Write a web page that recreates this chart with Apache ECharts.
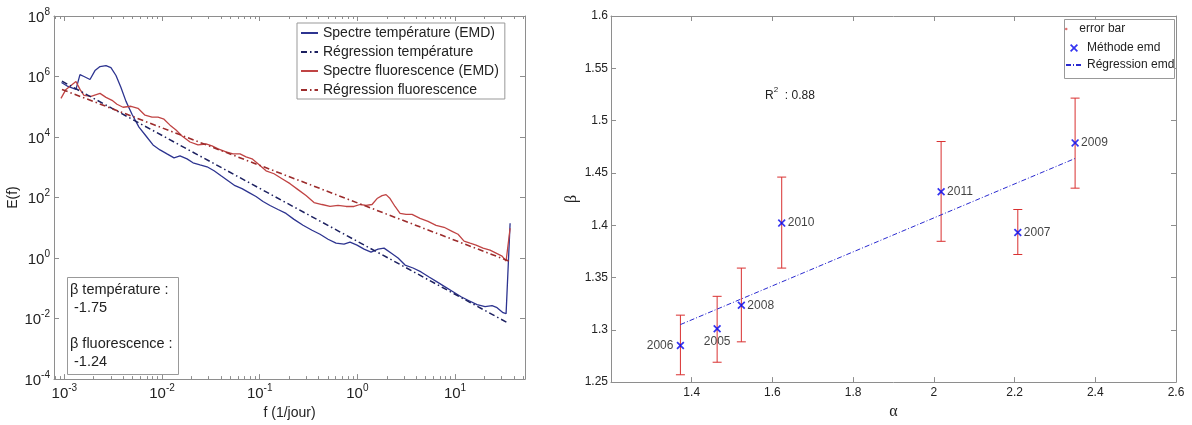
<!DOCTYPE html>
<html><head><meta charset="utf-8">
<script src="https://cdn.jsdelivr.net/npm/echarts@6/dist/echarts.min.js"></script>
<style>html,body{margin:0;padding:0;background:#fff}#c{width:1192px;height:425px}</style>
</head><body><div id="c"></div>
<script>
// ---------------- Left panel data (log-log spectra) ----------------
const tempFreq = [9.35e-4, 1.09e-3, 1.316e-3, 1.446e-3, 1.59e-3, 1.831e-3, 2.06e-3, 2.32e-3, 2.67e-3, 3.00e-3,
  3.38e-3, 3.80e-3, 4.28e-3, 4.93e-3, 5.81e-3, 6.86e-3, 8.09e-3, 9.54e-3, 0.01125, 0.01327,
  0.01528, 0.01803, 0.02077, 0.02449, 0.0289, 0.0341, 0.0402, 0.0474, 0.0559, 0.0659,
  0.0778, 0.0917, 0.1082, 0.1276, 0.1541, 0.1861, 0.2246, 0.2778, 0.3435, 0.4147,
  0.5008, 0.6047, 0.7304, 0.841, 0.992, 1.170, 1.380, 1.628, 1.875, 2.212,
  2.609, 3.076, 3.715, 4.486, 5.417, 6.54, 7.90, 9.54, 11.52, 13.91,
  16.80, 20.29, 23.92, 26.92, 31.0, 33.3, 36.6];
const tempSpec = [6.36e5, 4.70e5, 3.75e5, 1.16e6, 1.0e6, 7.98e5, 1.57e6, 2.13e6, 2.30e6, 1.97e6,
  1.08e6, 4.36e5, 1.51e5, 5.68e4, 2.13e4, 1.08e4, 5.47e3, 3.75e3, 2.77e3, 2.05e3,
  2.38e3, 1.90e3, 1.41e3, 1.21e3, 1.04e3, 767, 526, 361, 247, 197,
  146, 108, 74, 54.7, 40.4, 29.9, 19.0, 12.1, 8.28, 6.12,
  4.20, 3.10, 2.88, 3.35, 2.67, 1.97, 1.57, 1.97, 2.13, 1.46,
  1.0, 0.589, 0.470, 0.348, 0.238, 0.163, 0.112, 0.0767, 0.0526, 0.0389,
  0.0288, 0.0247, 0.0267, 0.0230, 0.0157, 0.0146, 14.1];
const fluoFreq = [9.24e-4, 1.040e-3, 1.170e-3, 1.316e-3, 1.446e-3, 1.590e-3, 1.875e-3, 2.32e-3, 2.67e-3, 3.08e-3,
  3.46e-3, 3.99e-3, 4.82e-3, 5.68e-3, 6.70e-3, 7.90e-3, 9.10e-3, 0.01048, 0.01208, 0.01391,
  0.01602, 0.01935, 0.02336, 0.0282, 0.0325, 0.0375, 0.0452, 0.0533, 0.0629, 0.0725,
  0.0835, 0.0961, 0.1161, 0.1402, 0.1693, 0.2045, 0.2468, 0.2981, 0.360, 0.4347,
  0.525, 0.634, 0.766, 0.924, 1.065, 1.227, 1.413, 1.590, 1.789, 1.966,
  2.160, 2.430, 2.735, 3.15, 3.63, 4.38, 5.29, 6.39, 7.72, 9.32,
  10.73, 12.36, 14.24, 16.41, 19.35, 22.82, 26.29, 30.28, 33.3, 36.6];
const fluoSpec = [1.90e5, 3.75e5, 5.07e5, 6.86e5, 3.75e5, 2.38e5, 2.21e5, 2.77e5, 2.05e5, 1.63e5,
  1.21e5, 9.64e4, 1.04e5, 8.93e4, 5.26e4, 4.53e4, 4.53e4, 3.89e4, 2.47e4, 1.70e4,
  1.08e4, 6.86e3, 5.47e3, 5.89e3, 5.07e3, 4.05e3, 3.22e3, 2.77e3, 2.77e3, 2.21e3,
  1.90e3, 1.30e3, 767, 612, 420, 288, 183, 116, 68.5, 58.9,
  50.7, 54.7, 50.7, 50.7, 58.9, 54.7, 58.9, 92.7, 116, 125,
  92.7, 50.7, 29.9, 27.7, 27.7, 20.5, 16.3, 12.1, 10.4, 7.67,
  6.12, 3.61, 3.10, 2.67, 2.13, 1.83, 1.46, 1.16, 0.798, 9.64];
const tempRegFreq = [9.46e-4, 35.7];
const tempRegVal = [7.0e5, 6.85e-3];
const fluoRegFreq = [9.46e-4, 35.7];
const fluoRegVal = [3.75e5, 0.794];
const leftNames = ['Spectre température (EMD)', 'Régression température', 'Spectre fluorescence (EMD)', 'Régression fluorescence'];
const xMajorTicks = [1e-3, 1e-2, 1e-1, 1, 10];
const yMajorTicks = [1e-4, 1e-2, 1, 1e2, 1e4, 1e6, 1e8];
const betaText = ['β température :', ' -1.75', '', 'β fluorescence :', ' -1.24'];

// ---------------- Right panel data (alpha / beta) ----------------
const years = ['2006', '2005', '2008', '2010', '2011', '2007', '2009'];
const alpha = [1.372, 1.463, 1.523, 1.623, 2.018, 2.208, 2.350];
const beta = [1.285, 1.301, 1.3235, 1.402, 1.432, 1.393, 1.4787];
const betaLow = [1.257, 1.269, 1.2885, 1.359, 1.3846, 1.372, 1.4354];
const betaHigh = [1.314, 1.332, 1.359, 1.446, 1.480, 1.415, 1.5215];
const regAlpha = [1.372, 2.350];
const regBeta = [1.305, 1.4638];
const rightNames = ['error bar', 'Méthode emd', 'Régression emd'];
const r2Value = '0.88';

// ---------------- fonts ----------------
function hasFont(name) {
  const ctx = document.createElement('canvas').getContext('2d');
  const s = 'abcdefghijklmnopqrstuvwxyz0123456789';
  ctx.font = '40px monospace'; const w1 = ctx.measureText(s).width;
  ctx.font = '40px "' + name + '", monospace'; const a = ctx.measureText(s).width;
  return Math.abs(a - w1) > 0.5;
}
const LS = '"Liberation Sans", Arial, sans-serif';
const narrow = hasFont('Liberation Sans Narrow');
const RF = narrow ? '"Liberation Sans Narrow", "Liberation Sans", sans-serif' : LS;
const RS = narrow ? 14 : 12;
const GREEK = '"Liberation Serif", "DejaVu Serif", serif';

const AX = '#8e8e8e';
const TXT = '#222';

// minor log ticks (2..9 x 10^k)
const xMinorTicks = [];
for (let e = -4; e <= 1; e++) for (let k = 2; k <= 9; k++) xMinorTicks.push(k * Math.pow(10, e));

function powLabel(v) {
  const e = Math.round(Math.log10(v));
  return '{b|10}{s|' + e + '}';
}
const powRich = {
  b: { fontFamily: LS, fontSize: 15, color: TXT, lineHeight: 18, verticalAlign: 'bottom' },
  s: { fontFamily: LS, fontSize: 10, color: TXT, lineHeight: 12, verticalAlign: 'top' }
};

function logAxis(dim, pos, ticks, len, labels, extra) {
  const base = {
    type: 'log', logBase: 10, gridIndex: 0, position: pos,
    min: dim === 'x' ? 7.84e-4 : 1e-4, max: dim === 'x' ? 52 : 1e8,
    axisLine: { show: true, onZero: false, lineStyle: { color: AX, width: 1 } },
    axisTick: { show: true, inside: true, length: len, customValues: ticks, lineStyle: { color: AX } },
    axisLabel: labels ? { show: true, customValues: ticks, formatter: powLabel, rich: powRich, margin: 4, color: TXT } : { show: false },
    splitLine: { show: false }, minorTick: { show: false }, minorSplitLine: { show: false }
  };
  return Object.assign(base, extra || {});
}
function valAxis(grid, pos, min, max, interval, labels, extra) {
  const base = {
    type: 'value', gridIndex: grid, position: pos, min: min, max: max, interval: interval,
    axisLine: { show: true, onZero: false, lineStyle: { color: AX, width: 1 } },
    axisTick: { show: true, inside: true, length: 5, lineStyle: { color: AX } },
    axisLabel: labels ? { show: true, fontFamily: RF, fontSize: RS, color: TXT } : { show: false },
    splitLine: { show: false }
  };
  return Object.assign(base, extra || {});
}

const xPath = 'path://M0,1.5 L1.5,0 L5,3.5 L8.5,0 L10,1.5 L6.5,5 L10,8.5 L8.5,10 L5,6.5 L1.5,10 L0,8.5 L3.5,5 Z';
const labelPlacement = { '2006': 'left', '2005': 'bottom' };
const noSym = { opacity: 0 };

const chart = echarts.init(document.getElementById('c'), null, { renderer: 'canvas' });
const option = {
  animation: false,
  backgroundColor: '#fff',
  grid: [
    { left: 54, top: 16, width: 471, height: 366 },
    { left: 611, top: 16, width: 565, height: 370 }
  ],
  xAxis: [
    logAxis('x', 'bottom', xMajorTicks, 5, true, {
      name: 'f (1/jour)', nameLocation: 'middle', nameGap: 16,
      nameTextStyle: { fontFamily: LS, fontSize: 14, color: TXT }
    }),
    logAxis('x', 'bottom', xMinorTicks, 3, false, { axisLine: { show: false } }),
    logAxis('x', 'top', xMajorTicks, 5, false),
    logAxis('x', 'top', xMinorTicks, 3, false, { axisLine: { show: false } }),
    valAxis(1, 'bottom', 1.2, 2.6, 0.2, true, {
      name: 'α', nameLocation: 'middle', nameGap: 19,
      nameTextStyle: { fontFamily: GREEK, fontSize: 16, color: TXT },
      axisLabel: { show: true, fontFamily: RF, fontSize: RS, color: TXT, showMinLabel: false, margin: 5 }
    }),
    valAxis(1, 'top', 1.2, 2.6, 0.2, false)
  ],
  yAxis: [
    logAxis('y', 'left', yMajorTicks, 5, true, {
      name: 'E(f)', nameLocation: 'middle', nameGap: 29,
      nameTextStyle: { fontFamily: LS, fontSize: 14, color: TXT }
    }),
    logAxis('y', 'right', yMajorTicks, 5, false),
    valAxis(1, 'left', 1.25, 1.6, 0.05, true, {
      name: 'β', nameLocation: 'middle', nameGap: 31,
      nameTextStyle: { fontFamily: GREEK, fontSize: 16, color: TXT },
      axisLabel: { show: true, fontFamily: RF, fontSize: RS, color: TXT, margin: 3 }
    }),
    valAxis(1, 'right', 1.25, 1.6, 0.05, false)
  ],
  legend: [
    {
      left: 297, top: 23, orient: 'vertical', padding: [3, 6, 2, 3], itemGap: 5,
      itemWidth: 17, itemHeight: 10, borderColor: '#999', borderWidth: 1, backgroundColor: '#fff',
      itemStyle: noSym,
      textStyle: { fontFamily: LS, fontSize: 14, color: TXT },
      data: leftNames.map(n => ({ name: n, itemStyle: noSym }))
    },
    {
      left: 1065, top: 23, orient: 'vertical', padding: 0, itemWidth: 16, itemHeight: 2.5, icon: 'circle',
      textStyle: { fontFamily: RF, fontSize: RS, color: TXT }, data: [rightNames[0]]
    },
    {
      left: 1065, top: 42, orient: 'vertical', padding: 0, itemGap: 5, itemWidth: 16, itemHeight: 8,
      textStyle: { fontFamily: RF, fontSize: RS, color: TXT },
      data: [{ name: rightNames[1] }, { name: rightNames[2], itemStyle: noSym }]
    }
  ],
  title: [
    {
      text: betaText.join('\n'), left: 67, top: 277, padding: [4, 6, 4, 3],
      borderColor: '#999', borderWidth: 1, backgroundColor: '#fff',
      textStyle: { fontFamily: LS, fontSize: 14.5, fontWeight: 'normal', color: TXT, lineHeight: 18 }
    },
    {
      text: '{b|R}{s|2}{b|  : ' + r2Value + '}', left: 765, top: 86, padding: 0,
      textStyle: {
        fontWeight: 'normal',
        rich: {
          b: { fontFamily: RF, fontSize: RS, fontWeight: 'normal', color: TXT, lineHeight: 16, verticalAlign: 'bottom' },
          s: { fontFamily: RF, fontSize: RS - 4, fontWeight: 'normal', color: TXT, lineHeight: 10, verticalAlign: 'top' }
        }
      }
    }
  ],
  graphic: [
    { type: 'rect', z: 3, shape: { x: 1064.5, y: 19.5, width: 110, height: 59 },
      style: { fill: '#fff', stroke: '#999', lineWidth: 1 } }
  ],
  series: [
    {
      name: leftNames[0], type: 'line', xAxisIndex: 0, yAxisIndex: 0, symbol: 'none', showSymbol: false,
      data: tempFreq.map((f, i) => [f, tempSpec[i]]),
      lineStyle: { color: '#2d3490', width: 1.3 }, itemStyle: { color: '#2d3490' }
    },
    {
      name: leftNames[2], type: 'line', xAxisIndex: 0, yAxisIndex: 0, symbol: 'none', showSymbol: false,
      data: fluoFreq.map((f, i) => [f, fluoSpec[i]]),
      lineStyle: { color: '#c04444', width: 1.3 }, itemStyle: { color: '#c04444' }
    },
    {
      name: leftNames[1], type: 'line', xAxisIndex: 0, yAxisIndex: 0, symbol: 'none', showSymbol: false,
      data: tempRegFreq.map((f, i) => [f, tempRegVal[i]]),
      lineStyle: { color: '#1c2060', width: 1.5, type: [6, 3, 1.5, 3] }, itemStyle: { color: '#1c2060' }
    },
    {
      name: leftNames[3], type: 'line', xAxisIndex: 0, yAxisIndex: 0, symbol: 'none', showSymbol: false,
      data: fluoRegFreq.map((f, i) => [f, fluoRegVal[i]]),
      lineStyle: { color: '#9c2c2c', width: 1.6, type: [6, 3, 1.5, 3] }, itemStyle: { color: '#9c2c2c' }
    },
    {
      name: rightNames[0], type: 'custom', xAxisIndex: 4, yAxisIndex: 2,
      data: alpha.map((a, i) => [a, betaLow[i], betaHigh[i]]),
      encode: { x: 0, y: [1, 2] },
      itemStyle: { color: '#e07070' },
      renderItem: function (params, api) {
        const x = api.value(0);
        const pLo = api.coord([x, api.value(1)]);
        const pHi = api.coord([x, api.value(2)]);
        const hw = 4.5;
        const st = { stroke: '#d93030', lineWidth: 1, fill: null };
        return {
          type: 'group', children: [
            { type: 'line', shape: { x1: pLo[0], y1: pLo[1], x2: pHi[0], y2: pHi[1] }, style: st },
            { type: 'line', shape: { x1: pLo[0] - hw, y1: pLo[1], x2: pLo[0] + hw, y2: pLo[1] }, style: st },
            { type: 'line', shape: { x1: pHi[0] - hw, y1: pHi[1], x2: pHi[0] + hw, y2: pHi[1] }, style: st }
          ]
        };
      }
    },
    {
      name: rightNames[2], type: 'line', xAxisIndex: 4, yAxisIndex: 2, symbol: 'none', showSymbol: false,
      data: regAlpha.map((a, i) => [a, regBeta[i]]),
      lineStyle: { color: '#2a2ad0', width: 1, type: [5, 2, 1, 2] }, itemStyle: { color: '#2a2ad0' }
    },
    {
      name: rightNames[1], type: 'scatter', xAxisIndex: 4, yAxisIndex: 2, symbol: xPath, symbolSize: 8,
      itemStyle: { color: '#0000ee' }, z: 5,
      label: { show: true, position: 'right', distance: 2, formatter: '{b}', fontFamily: RF, fontSize: RS, color: '#111' },
      data: alpha.map((a, i) => {
        const item = { name: years[i], value: [a, beta[i]] };
        if (labelPlacement[years[i]]) item.label = { position: labelPlacement[years[i]], distance: 3 };
        return item;
      })
    }
  ]
};
chart.setOption(option);
</script>
</body></html>
